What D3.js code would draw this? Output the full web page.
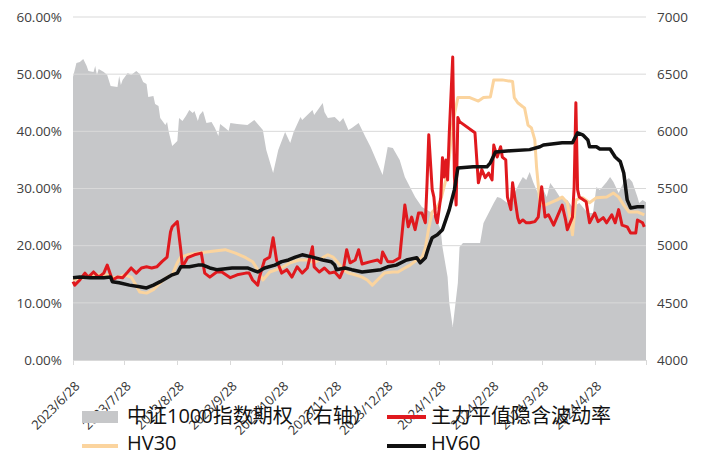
<!DOCTYPE html>
<html><head><meta charset="utf-8">
<script src="https://cdn.jsdelivr.net/npm/d3@7/dist/d3.min.js"></script>
<style>
html,body{margin:0;padding:0;background:#fff;}
svg{display:block;font-family:"Open Sans","Noto Sans CJK SC",sans-serif;}
</style></head>
<body><svg id="c" width="708" height="455"></svg>
<script>
// ---------- DATA ----------
const seriesNames = ["中证1000指数期权（右轴）", "主力平值隐含波动率", "HV30", "HV60"];
const leftTicks = [0, 0.1, 0.2, 0.3, 0.4, 0.5, 0.6];
const rightTicks = [4000, 4500, 5000, 5500, 6000, 6500, 7000];
const xTickDates = ["2023-06-28","2023-07-28","2023-08-28","2023-09-28","2023-10-28","2023-11-28","2023-12-28","2024-01-28","2024-02-28","2024-03-28","2024-04-28","2024-05-28"];
const xTickLabels = ["2023/6/28","2023/7/28","2023/8/28","2023/9/28","2023/10/28","2023/11/28","2023/12/28","2024/1/28","2024/2/28","2024/3/28","2024/4/28",""];

// CSI 1000 index (right axis)
const idxDates = ["2023-06-28","2023-06-30","2023-07-02","2023-07-04","2023-07-06","2023-07-07","2023-07-10","2023-07-11","2023-07-12","2023-07-13","2023-07-16","2023-07-18","2023-07-20","2023-07-24","2023-07-25","2023-07-26","2023-07-27","2023-07-30","2023-08-01","2023-08-04","2023-08-06","2023-08-08","2023-08-10","2023-08-11","2023-08-14","2023-08-15","2023-08-17","2023-08-18","2023-08-21","2023-08-22","2023-08-23","2023-08-25","2023-08-28","2023-08-29","2023-08-31","2023-09-02","2023-09-04","2023-09-06","2023-09-07","2023-09-09","2023-09-10","2023-09-12","2023-09-14","2023-09-17","2023-09-19","2023-09-21","2023-09-22","2023-09-25","2023-09-27","2023-09-28","2023-10-02","2023-10-08","2023-10-12","2023-10-17","2023-10-19","2023-10-23","2023-10-26","2023-10-30","2023-11-02","2023-11-04","2023-11-08","2023-11-09","2023-11-15","2023-11-16","2023-11-21","2023-11-22","2023-11-24","2023-11-28","2023-12-01","2023-12-03","2023-12-06","2023-12-08","2023-12-12","2023-12-16","2023-12-19","2023-12-23","2023-12-26","2023-12-29","2024-01-01","2024-01-05","2024-01-08","2024-01-11","2024-01-14","2024-01-18","2024-01-23","2024-01-26","2024-01-29","2024-01-30","2024-02-02","2024-02-03","2024-02-05","2024-02-08","2024-02-09","2024-02-11","2024-02-21","2024-02-23","2024-02-29","2024-03-02","2024-03-04","2024-03-08","2024-03-11","2024-03-15","2024-03-17","2024-03-19","2024-03-21","2024-03-23","2024-03-25","2024-03-27","2024-03-29","2024-03-31","2024-04-02","2024-04-05","2024-04-08","2024-04-12","2024-04-15","2024-04-19","2024-04-24","2024-04-27","2024-04-29","2024-05-01","2024-05-05","2024-05-07","2024-05-09","2024-05-12","2024-05-15","2024-05-18","2024-05-20","2024-05-23","2024-05-24","2024-05-26","2024-05-28"];
const idxValues = [6475,6598,6606,6633,6571,6528,6519,6571,6493,6545,6519,6493,6396,6388,6484,6405,6449,6510,6493,6528,6501,6431,6414,6300,6309,6239,6221,6117,6055,6082,5994,5872,5915,6117,6090,6134,6187,6160,6178,6090,6143,6178,6073,6082,6029,5959,6064,6029,6003,6073,6064,6055,6099,6012,5837,5636,5837,5994,5898,5994,6125,6099,6187,6143,6248,6169,6117,6125,6082,6117,6012,6029,6073,5950,5863,5723,5618,5863,5854,5749,5600,5513,5426,5338,5294,5251,5137,4988,4726,4499,4289,4673,4988,5023,5023,5198,5373,5426,5417,5373,5426,5548,5600,5574,5644,5557,5487,5426,5487,5426,5548,5487,5417,5399,5338,5373,5286,5286,5513,5487,5557,5600,5557,5461,5557,5592,5557,5426,5373,5399,5380];

// ATM implied volatility of main contract (%)
const ivDates = ["2023-06-28","2023-06-29","2023-07-02","2023-07-05","2023-07-07","2023-07-10","2023-07-13","2023-07-16","2023-07-18","2023-07-21","2023-07-24","2023-07-27","2023-07-30","2023-08-01","2023-08-04","2023-08-07","2023-08-10","2023-08-13","2023-08-16","2023-08-19","2023-08-22","2023-08-24","2023-08-25","2023-08-28","2023-08-30","2023-08-31","2023-09-03","2023-09-07","2023-09-11","2023-09-13","2023-09-16","2023-09-20","2023-09-23","2023-09-28","2023-10-02","2023-10-07","2023-10-09","2023-10-11","2023-10-14","2023-10-15","2023-10-18","2023-10-21","2023-10-23","2023-10-25","2023-10-28","2023-10-31","2023-11-03","2023-11-06","2023-11-09","2023-11-12","2023-11-15","2023-11-16","2023-11-19","2023-11-22","2023-11-25","2023-11-28","2023-12-01","2023-12-03","2023-12-05","2023-12-07","2023-12-10","2023-12-12","2023-12-14","2023-12-19","2023-12-23","2023-12-25","2023-12-26","2023-12-29","2024-01-01","2024-01-05","2024-01-07","2024-01-08","2024-01-10","2024-01-12","2024-01-14","2024-01-16","2024-01-18","2024-01-20","2024-01-21","2024-01-22","2024-01-24","2024-01-25","2024-01-26","2024-01-27","2024-01-29","2024-01-30","2024-01-31","2024-02-01","2024-02-02","2024-02-03","2024-02-05","2024-02-06","2024-02-07","2024-02-08","2024-02-09","2024-02-18","2024-02-20","2024-02-22","2024-02-24","2024-02-26","2024-02-28","2024-02-29","2024-03-02","2024-03-04","2024-03-05","2024-03-07","2024-03-08","2024-03-10","2024-03-11","2024-03-14","2024-03-15","2024-03-17","2024-03-19","2024-03-21","2024-03-24","2024-03-26","2024-03-28","2024-03-30","2024-04-01","2024-04-04","2024-04-06","2024-04-09","2024-04-11","2024-04-12","2024-04-15","2024-04-16","2024-04-17","2024-04-18","2024-04-19","2024-04-23","2024-04-25","2024-04-28","2024-04-30","2024-05-03","2024-05-05","2024-05-08","2024-05-10","2024-05-12","2024-05-14","2024-05-17","2024-05-19","2024-05-22","2024-05-23","2024-05-26","2024-05-27"];
const ivValues = [13.7,13.1,14.0,15.2,14.5,15.4,14.5,15.2,16.6,14.0,14.5,14.4,15.4,16.1,15.2,16.1,16.3,16.1,16.3,17.2,18.0,22.4,23.3,24.2,19.3,16.3,17.9,18.4,18.7,15.2,14.5,15.4,15.4,14.4,14.9,15.2,15.2,14.0,13.1,14.5,17.5,18.0,21.4,17.5,15.2,15.8,14.5,16.3,15.2,16.1,19.8,16.3,15.4,16.1,15.2,15.4,14.4,15.8,19.3,17.0,17.5,19.3,16.8,17.2,17.5,17.0,18.9,17.2,17.2,17.9,24.0,27.1,23.3,25.0,22.8,25.7,25.7,24.0,31.0,39.4,29.8,28.5,25.0,24.0,28.5,35.4,32.0,35.0,31.5,39.75,53.0,32.0,27.1,42.4,41.7,39.75,31.0,33.3,31.9,32.7,31.5,37.6,35.5,37.3,35.5,35.0,28.5,26.3,31.0,24.9,24.0,24.5,24.0,24.0,24.2,25.0,30.3,25.0,25.4,23.6,25.0,27.1,24.5,22.8,25.0,30.3,45.0,29.8,28.5,27.7,24.0,25.7,24.2,24.9,24.0,25.4,24.0,26.3,23.6,23.3,22.2,22.2,24.5,24.0,23.3];

// 30-day historical volatility (%)
const hv30Dates = ["2023-06-28","2023-07-04","2023-07-10","2023-07-18","2023-07-21","2023-07-25","2023-07-28","2023-08-01","2023-08-03","2023-08-06","2023-08-10","2023-08-14","2023-08-18","2023-08-22","2023-08-25","2023-08-28","2023-08-30","2023-09-03","2023-09-09","2023-09-14","2023-09-20","2023-09-25","2023-10-01","2023-10-07","2023-10-11","2023-10-14","2023-10-17","2023-10-21","2023-10-25","2023-10-29","2023-11-02","2023-11-07","2023-11-12","2023-11-16","2023-11-21","2023-11-24","2023-11-27","2023-11-30","2023-12-03","2023-12-06","2023-12-10","2023-12-14","2023-12-17","2023-12-20","2023-12-23","2023-12-27","2024-01-01","2024-01-04","2024-01-08","2024-01-11","2024-01-15","2024-01-18","2024-01-20","2024-01-22","2024-01-24","2024-01-27","2024-01-29","2024-02-01","2024-02-03","2024-02-05","2024-02-08","2024-02-15","2024-02-20","2024-02-23","2024-02-27","2024-02-29","2024-03-05","2024-03-11","2024-03-12","2024-03-14","2024-03-17","2024-03-18","2024-03-20","2024-03-22","2024-03-24","2024-03-25","2024-03-27","2024-03-30","2024-04-06","2024-04-09","2024-04-12","2024-04-14","2024-04-15","2024-04-17","2024-04-21","2024-04-25","2024-04-29","2024-05-05","2024-05-09","2024-05-12","2024-05-15","2024-05-18","2024-05-23","2024-05-27"];
const hv30Values = [14.0,14.4,14.9,14.9,14.4,14.5,14.9,14.5,13.5,11.9,11.7,12.3,13.5,14.5,14.9,17.0,18.0,18.4,18.7,18.9,19.1,19.3,18.7,17.9,17.2,15.8,14.0,15.4,15.8,16.3,17.0,17.5,17.5,17.0,17.9,18.4,18.0,17.0,15.8,15.2,14.9,14.5,14.0,13.1,14.0,15.2,15.4,15.4,16.1,16.6,17.5,17.9,19.6,23.1,25.9,26.8,28.0,31.5,35.5,41.5,45.9,45.9,45.3,45.9,46.0,49.0,49.0,48.7,45.9,45.0,44.3,44.1,41.1,40.6,38.5,33.8,27.5,27.1,28.0,28.5,27.5,24.0,21.9,28.0,28.4,27.5,28.4,28.5,29.2,28.5,27.1,25.9,25.9,25.4];

// 60-day historical volatility (%)
const hv60Dates = ["2023-06-28","2023-07-02","2023-07-08","2023-07-16","2023-07-20","2023-07-21","2023-07-25","2023-07-31","2023-08-06","2023-08-10","2023-08-14","2023-08-18","2023-08-22","2023-08-25","2023-08-28","2023-08-30","2023-09-04","2023-09-09","2023-09-12","2023-09-16","2023-09-20","2023-09-29","2023-10-08","2023-10-14","2023-10-18","2023-10-24","2023-10-28","2023-11-01","2023-11-05","2023-11-09","2023-11-15","2023-11-21","2023-11-26","2023-11-28","2023-11-29","2023-12-04","2023-12-08","2023-12-14","2023-12-25","2023-12-29","2024-01-03","2024-01-09","2024-01-15","2024-01-17","2024-01-20","2024-01-22","2024-01-24","2024-01-27","2024-01-30","2024-02-03","2024-02-06","2024-02-08","2024-02-17","2024-02-25","2024-02-27","2024-03-01","2024-03-10","2024-03-21","2024-03-27","2024-03-29","2024-04-09","2024-04-15","2024-04-18","2024-04-21","2024-04-24","2024-04-25","2024-04-29","2024-05-01","2024-05-07","2024-05-10","2024-05-13","2024-05-15","2024-05-17","2024-05-19","2024-05-23","2024-05-27"];
const hv60Values = [14.4,14.5,14.4,14.4,14.5,13.7,13.5,13.1,12.8,12.6,13.1,13.7,14.4,14.9,15.2,16.3,16.3,16.6,16.6,16.1,15.8,16.1,16.1,15.4,16.1,16.6,17.2,17.5,18.0,18.4,18.0,17.5,17.2,16.6,15.8,16.1,15.8,15.4,15.8,16.3,16.6,17.5,17.9,17.0,17.9,19.8,21.4,21.9,22.8,26.3,29.8,33.6,33.8,33.8,34.5,36.4,36.6,36.8,37.3,37.6,38.0,38.0,39.75,39.4,38.5,37.3,37.3,36.9,36.9,35.5,34.7,32.7,28.0,26.6,26.8,26.8];

// ---------- CHART ----------
const parse = d3.timeParse("%Y-%m-%d");
const svg = d3.select("#c");
const L = 73, R = 646, T = 17, B = 360;

const x = d3.scaleTime().domain([parse("2023-06-28"), parse("2024-05-28")]).range([L, R]);
const yL = d3.scaleLinear().domain([0, 0.6]).range([B, T]);
const yR = d3.scaleLinear().domain([4000, 7000]).range([B, T]);

const idx = idxDates.map((d, i) => ({ d: parse(d), v: idxValues[i] }));
const iv = ivDates.map((d, i) => ({ d: parse(d), v: ivValues[i] / 100 }));
const hv30 = hv30Dates.map((d, i) => ({ d: parse(d), v: hv30Values[i] / 100 }));
const hv60 = hv60Dates.map((d, i) => ({ d: parse(d), v: hv60Values[i] / 100 }));

const colors = { area: "#c6c7c9", iv: "#e0191e", hv30: "#fbd49e", hv60: "#111111" };

// area
svg.append("path").datum(idx)
  .attr("fill", colors.area)
  .attr("d", d3.area().x(p => x(p.d)).y0(B).y1(p => yR(p.v)));

// gridlines
svg.append("g").selectAll("line").data(leftTicks.slice(1)).join("line")
  .attr("x1", L).attr("x2", R)
  .attr("y1", d => yL(d)).attr("y2", d => yL(d))
  .attr("stroke", "#d9d9d9").attr("stroke-width", 1);

// left axis labels
const fmtPct = d3.format(".2%");
svg.append("g").selectAll("text").data(leftTicks).join("text")
  .attr("x", 62).attr("y", d => yL(d)).attr("dy", "0.35em")
  .attr("text-anchor", "end").attr("font-size", 13.5).attr("fill", "#404040")
  .text(d => fmtPct(d));

// right axis labels
svg.append("g").selectAll("text").data(rightTicks).join("text")
  .attr("x", 657).attr("y", d => yR(d)).attr("dy", "0.35em")
  .attr("text-anchor", "start").attr("font-size", 13.5).attr("fill", "#404040")
  .text(d => d);

// x axis
const xa = svg.append("g");
xa.append("line").attr("x1", L).attr("x2", R).attr("y1", B + 0.5).attr("y2", B + 0.5)
  .attr("stroke", "#d9d9d9");
xa.selectAll("line.tk").data(xTickDates).join("line").attr("class", "tk")
  .attr("x1", d => Math.round(x(parse(d))) + 0.5).attr("x2", d => Math.round(x(parse(d))) + 0.5)
  .attr("y1", B).attr("y2", B + 5).attr("stroke", "#d9d9d9");

// lines
const line = d3.line().x(p => x(p.d)).y(p => yL(p.v));
svg.append("path").datum(hv30).attr("fill", "none").attr("stroke", colors.hv30)
  .attr("stroke-width", 3).attr("stroke-linejoin", "round").attr("d", line);
svg.append("path").datum(iv).attr("fill", "none").attr("stroke", colors.iv)
  .attr("stroke-width", 3).attr("stroke-linejoin", "round").attr("d", line);
svg.append("path").datum(hv60).attr("fill", "none").attr("stroke", colors.hv60)
  .attr("stroke-width", 3.5).attr("stroke-linejoin", "round").attr("d", line);

// x labels (rotated)
xa.selectAll("text").data(xTickDates).join("text")
  .attr("transform", d => `translate(${x(parse(d)) + 7.5},${B + 27}) rotate(-45)`)
  .attr("text-anchor", "end").attr("font-size", 13).attr("fill", "#333")
  .text((d, i) => xTickLabels[i]);

// legend
const lg = svg.append("g").attr("font-size", 20).attr("fill", "#111");
lg.append("rect").attr("x", 82).attr("y", 411).attr("width", 36).attr("height", 12).attr("fill", colors.area);
lg.append("text").attr("x", 127).attr("y", 423).text(seriesNames[0]);
lg.append("line").attr("x1", 387).attr("x2", 426).attr("y1", 417).attr("y2", 417).attr("stroke", colors.iv).attr("stroke-width", 4);
lg.append("text").attr("x", 431).attr("y", 423).text(seriesNames[1]);
lg.append("line").attr("x1", 82).attr("x2", 118).attr("y1", 446).attr("y2", 446).attr("stroke", colors.hv30).attr("stroke-width", 4);
lg.append("text").attr("x", 127).attr("y", 450).text(seriesNames[2]);
lg.append("line").attr("x1", 387).attr("x2", 426).attr("y1", 446).attr("y2", 446).attr("stroke", colors.hv60).attr("stroke-width", 4);
lg.append("text").attr("x", 431).attr("y", 450).text(seriesNames[3]);
</script></body></html>
